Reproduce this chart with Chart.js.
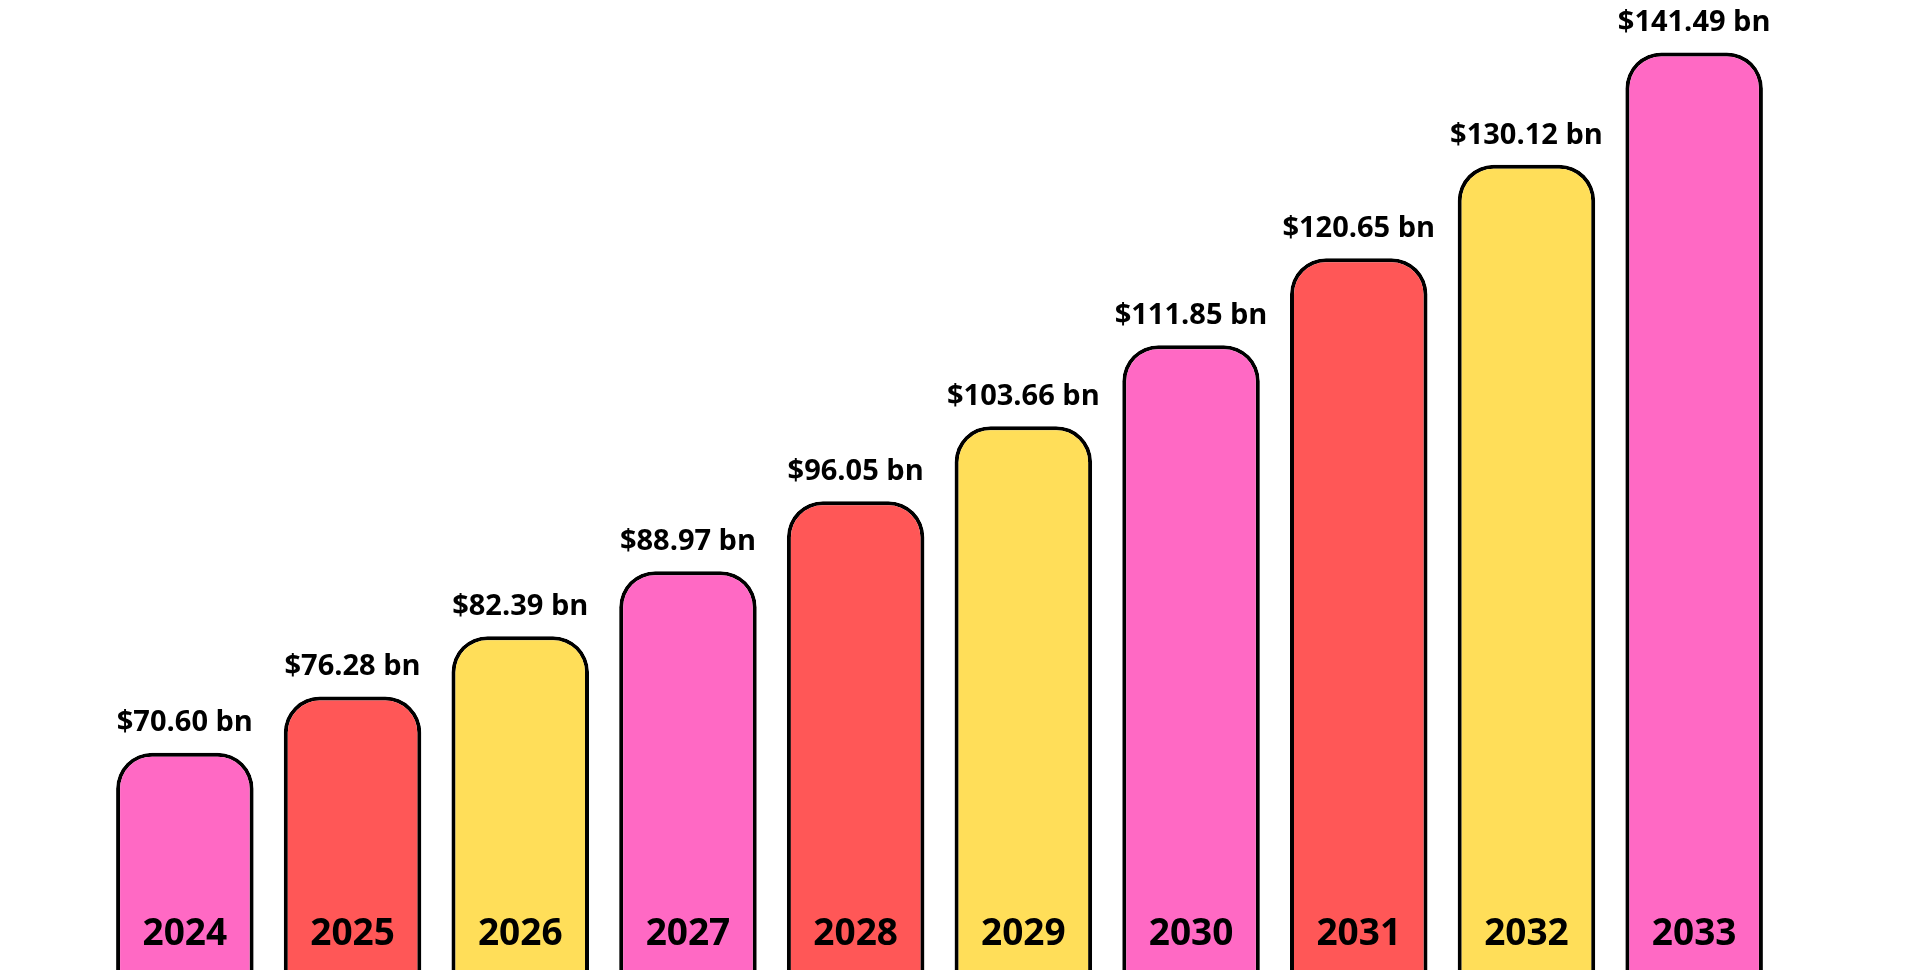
<!DOCTYPE html>
<html><head><meta charset="utf-8">
<script src="https://cdn.jsdelivr.net/npm/chart.js@4"></script>
<style>html,body{margin:0;padding:0;background:#fff;overflow:hidden}#wrap{width:1920px;height:973px}</style>
</head><body><div id="wrap"><canvas id="c"></canvas></div>
<script>
const years = ["2024","2025","2026","2027","2028","2029","2030","2031","2032","2033"];
const values = [70.60,76.28,82.39,88.97,96.05,103.66,111.85,120.65,130.12,141.49];
const valueLabels = ["$70.60 bn","$76.28 bn","$82.39 bn","$88.97 bn","$96.05 bn","$103.66 bn","$111.85 bn","$120.65 bn","$130.12 bn","$141.49 bn"];
const palette = ["#FF69C4","#FF5757","#FFDE59"];
const barColors = years.map((_, i) => palette[i % 3]);

const labelPlugin = {
  id: 'labels',
  afterDatasetsDraw(chart) {
    const ctx = chart.ctx;
    const meta = chart.getDatasetMeta(0);
    ctx.save();
    ctx.fillStyle = '#000';
    ctx.textAlign = 'center';
    meta.data.forEach((bar, i) => {
      ctx.font = 'bold 29px "Open Sans", sans-serif';
      ctx.textBaseline = 'bottom';
      ctx.fillText(valueLabels[i], bar.x, bar.y - 15);
      ctx.font = 'bold 37px "Open Sans", sans-serif';
      ctx.textBaseline = 'alphabetic';
      ctx.fillText(years[i], bar.x, 945);
    });
    ctx.restore();
  }
};

new Chart(document.getElementById('c'), {
  type: 'bar',
  data: { labels: years, datasets: [{
    data: values, backgroundColor: barColors, borderColor: '#000', borderWidth: 4,
    borderRadius: 36, borderSkipped: false, barPercentage: 0.82, categoryPercentage: 1
  }]},
  options: {
    responsive: true, maintainAspectRatio: false, animation: false,
    layout: { padding: { left: 101, right: 142, top: 0, bottom: 3 } },
    plugins: { legend: { display: false }, tooltip: { enabled: false } },
    scales: {
      x: { display: false },
      y: { display: false, min: 48.6, max: 146.8 }
    }
  },
  plugins: [labelPlugin]
});
</script></body></html>
